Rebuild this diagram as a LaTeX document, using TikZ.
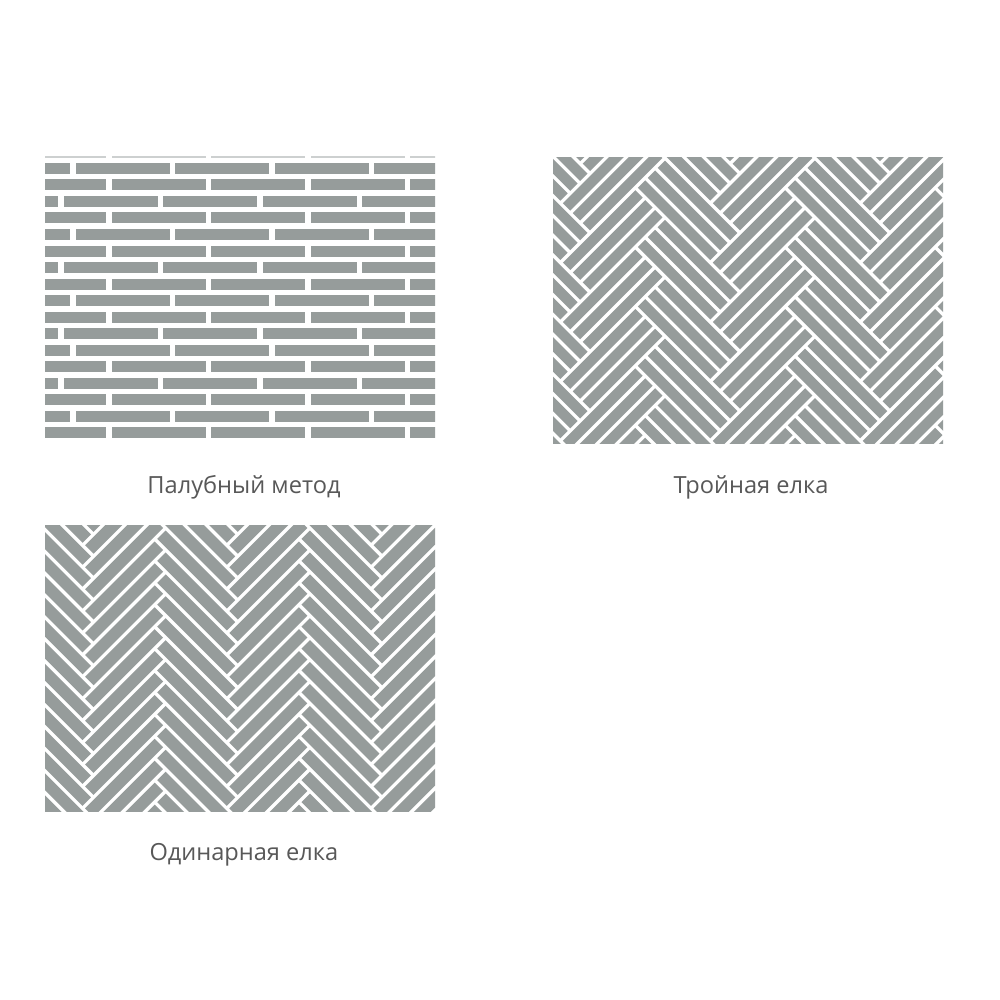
\documentclass[tikz,border=0pt]{standalone}
\usepackage{fontspec}
\setmainfont{Open Sans}
\definecolor{board}{RGB}{150,156,155}
\definecolor{boardlight}{RGB}{205,208,208}
\definecolor{lbl}{RGB}{88,88,88}
\tikzset{
  plank/.style={fill=board, draw=none},
  caption/.style={text=lbl, font=\fontsize{23.6}{28}\selectfont, inner sep=0pt, anchor=base},
}
\begin{document}
\begin{tikzpicture}[x=1pt,y=-1pt]
\fill[white] (0,0) rectangle (1000,1000);
\useasboundingbox (0,0) rectangle (1000,1000);

% ---------- Deck pattern ----------
\begin{scope}
\clip (45,156.2) rectangle (435,438.5);
\foreach \k in {-1,0,1,2,3,4} {
  \fill[boardlight] ({106+5.5+99.5*(\k-1)},146.5) rectangle ({106+99.5*\k},157.6);
}
\foreach \r/\s in {0/70,1/106,2/58,3/106,4/70,5/106,6/58,7/106,8/70,9/106,10/58,11/70,12/106,13/58,14/106,15/70,16/106} {
  \foreach \k in {-1,0,1,2,3,4} {
    \fill[plank] ({\s+5.5+99.5*(\k-1)},{163+16.5*\r}) rectangle ({\s+99.5*\k},{174+16.5*\r});
  }
}
\end{scope}

% ---------- Single herringbone ----------
\def\Lw{102}\def\ww{15.5}\def\gg{3.6}
\begin{scope}
\clip (45,525) rectangle (435,811);
\begin{scope}[shift={(21.4,528)}, rotate=-45]
\foreach \i in {-5,...,14} {
  \foreach \j in {-1,...,3} {
    \begin{scope}[shift={({\i*\ww+\j*\Lw},{\i*\ww-\j*\Lw})}]
      \fill[plank] ({\gg/2},{\gg/2}) rectangle ({\Lw-\gg/2},{\ww-\gg/2});
      \fill[plank] ({\Lw+\gg/2},{\ww-\Lw+\gg/2}) rectangle ({\Lw+\ww-\gg/2},{\ww-\gg/2});
    \end{scope}
  }
}
\end{scope}
\end{scope}

% ---------- Triple herringbone ----------
\def\Lt{106}\def\wt{14}\def\Wt{42}
\begin{scope}
\clip (553,158) rectangle (943,443);
\begin{scope}[shift={(665,158)}, rotate=-45]
\foreach \i in {-3,...,6} {
  \foreach \j in {-2,...,2} {
    \begin{scope}[shift={({\i*\Wt+\j*\Lt},{\i*\Wt-\j*\Lt})}]
      \foreach \k in {0,1,2} {
        \fill[plank] ({\gg/2},{\k*\wt+\gg/2}) rectangle ({\Lt-\gg/2},{(\k+1)*\wt-\gg/2});
        \fill[plank] ({\Lt+\k*\wt+\gg/2},{\Wt-\Lt+\gg/2}) rectangle ({\Lt+(\k+1)*\wt-\gg/2},{\Wt-\gg/2});
      }
    \end{scope}
  }
}
\end{scope}
\end{scope}

% ---------- Captions ----------
\node[caption] (cap1) at (244,493) {Палубный метод};
\node[caption] (cap2) at (751,493) {Тройная елка};
\node[caption] (cap3) at (244,860) {Одинарная елка};
\end{tikzpicture}
\end{document}
